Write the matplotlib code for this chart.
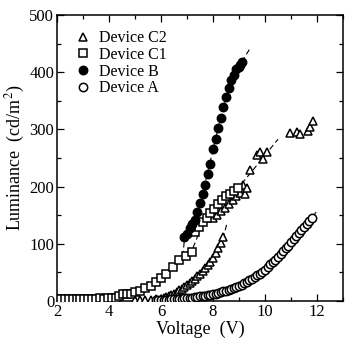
"""Luminance-voltage curves for devices A, B, C1 and C2."""
import matplotlib
matplotlib.use("Agg")
import matplotlib.pyplot as plt
from matplotlib.ticker import MultipleLocator

plt.rcParams["font.family"] = ["Liberation Serif", "DejaVu Serif"]
plt.rcParams["mathtext.fontset"] = "stix"

# Device A (open circles)
a_v = [5.8, 5.9, 6.0, 6.1, 6.2, 6.3, 6.4, 6.5, 6.6, 6.7, 6.8, 6.9, 7.0, 7.1, 7.2,
       7.3, 7.4, 7.5, 7.6, 7.7, 7.8, 7.9, 8.0, 8.1, 8.2, 8.3, 8.4, 8.5, 8.6, 8.7,
       8.8, 8.9, 9.0, 9.1, 9.2, 9.3, 9.4, 9.5, 9.6, 9.7, 9.8, 9.9, 10.0, 10.1, 10.2,
       10.3, 10.4, 10.5, 10.6, 10.7, 10.8, 10.9, 11.0, 11.1, 11.2, 11.3, 11.4, 11.5,
       11.6, 11.7, 11.8]
a_l = [1, 1, 1, 2, 2, 2, 3, 3, 3, 4, 4, 5, 5, 6, 6,
       7, 7, 8, 8, 9, 10, 11, 12, 13, 14, 15, 17, 18, 20, 21,
       23, 24, 26, 28, 31, 33, 36, 39, 42, 45, 48, 51, 55, 59, 64,
       68, 72, 77, 82, 87, 92, 97, 103, 108, 113, 119, 125, 130,
       135, 140, 146]

# Device B (filled circles)
b_v = [6.9, 7.0, 7.1, 7.2, 7.3, 7.4, 7.5, 7.6, 7.7, 7.8, 7.9, 8.0, 8.1, 8.2, 8.3,
       8.4, 8.5, 8.6, 8.7, 8.8, 8.9, 9.0, 9.05, 9.1]
b_l = [112, 118, 127, 135, 142, 155, 172, 187, 203, 222, 240, 265, 284, 302, 320,
       340, 357, 372, 386, 396, 405, 410, 413, 418]

# Device C1 (open squares)
c1_v = [2.0, 2.15, 2.3, 2.45, 2.6, 2.75, 2.9, 3.05, 3.2, 3.35, 3.5, 3.65, 3.8,
        3.95, 4.1, 4.25, 4.4, 4.55, 4.7, 4.85, 5.0, 5.2, 5.4, 5.6, 5.8, 6.0, 6.2,
        6.45, 6.7, 6.95, 7.2,
        7.3, 7.45, 7.6, 7.75, 7.9, 8.05, 8.2, 8.35, 8.5, 8.65, 8.8, 8.95]
c1_l = [3, 4, 3, 3, 4, 3, 4, 4, 3, 4, 4, 5, 4, 5, 5, 6, 8, 12, 12, 13, 15, 18,
        22, 27, 33, 40, 48, 60, 71, 79, 86,
        121, 129, 138, 146, 154, 161, 169, 176, 183, 188, 193, 197]

# Device C2 (open triangles), low-voltage run
c2_v = [5.0, 5.2, 5.4, 5.6, 5.8, 6.0, 6.1, 6.2, 6.3, 6.4, 6.5, 6.6, 6.7, 6.8, 6.9,
        7.0, 7.1, 7.2, 7.3, 7.4, 7.5, 7.6, 7.7, 7.8, 7.9, 8.0, 8.1, 8.2, 8.3, 8.4]
c2_l = [1, 1, 2, 2, 3, 3, 5, 7, 9, 11, 13, 16, 19, 21, 24,
        28, 31, 35, 39, 43, 47, 52, 57, 63, 69, 76, 84, 92, 101, 112]

# Device C2, high-voltage run
c2b_v = [8.0, 8.15, 8.3, 8.45, 8.6, 8.75, 8.9, 9.05, 9.17, 9.23, 9.3,
         9.42, 9.68, 9.81, 9.94, 10.06, 10.96, 11.22, 11.35, 11.67, 11.73, 11.86]
c2b_l = [145, 151, 157, 163, 169, 176, 183, 189, 203, 188, 198,
         230, 255, 261, 249, 261, 294, 296, 292, 298, 305, 315]

# dashed fits
a_fit_v = [10.5, 11.0, 11.5, 11.8, 12.05]
a_fit_l = [77, 103, 130, 146, 160]
b_fit_v = [6.84, 6.9, 7.2, 7.6, 8.0, 8.4, 8.8, 9.1, 9.4]
b_fit_l = [78, 108, 135, 187, 265, 340, 395, 418, 440]
c1_fit_v = [4.8, 5.5, 6.0, 6.5, 7.0, 7.2, 7.4, 7.6, 8.0, 8.5, 9.0, 9.2]
c1_fit_l = [10, 24, 40, 62, 81, 90, 112, 137, 160, 184, 200, 206]
c2_fit_v = [6.0, 6.5, 7.0, 7.5, 8.0, 8.4, 8.55]
c2_fit_l = [3, 13, 28, 47, 76, 112, 138]
c2b_fit_v = [9.1, 9.5, 10.0, 10.5]
c2b_fit_l = [205, 227, 255, 283]

fig = plt.figure(figsize=(3.5, 3.44), dpi=100)
ax = fig.add_axes([0.163, 0.125, 0.817, 0.831])

dash = dict(color="black", linestyle=(0, (5, 3)), linewidth=0.8, zorder=1)
for fv, fl in [(a_fit_v, a_fit_l), (b_fit_v, b_fit_l), (c1_fit_v, c1_fit_l),
               (c2_fit_v, c2_fit_l), (c2b_fit_v, c2b_fit_l)]:
    ax.plot(fv, fl, **dash)

ms = 6
common = dict(linestyle="none", markeredgecolor="black", markeredgewidth=1.1, zorder=3)
ax.plot(c2_v, c2_l, marker="^", markersize=ms, markerfacecolor="white",
        label="Device C2", **common)
ax.plot(c2b_v, c2b_l, marker="^", markersize=ms, markerfacecolor="white", **common)
ax.plot(c1_v, c1_l, marker="s", markersize=ms - 0.5, markerfacecolor="white",
        label="Device C1", **common)
ax.plot(b_v, b_l, marker="o", markersize=ms, markerfacecolor="black",
        label="Device B", **common)
ax.plot(a_v, a_l, marker="o", markersize=ms, markerfacecolor="white",
        label="Device A", **common)

ax.set_xlim(2, 13)
ax.set_ylim(0, 500)
ax.xaxis.set_major_locator(MultipleLocator(2))
ax.xaxis.set_minor_locator(MultipleLocator(1))
ax.yaxis.set_major_locator(MultipleLocator(100))
ax.yaxis.set_minor_locator(MultipleLocator(50))
ax.tick_params(which="both", direction="in", top=True, right=True,
               labelsize=12, width=0.9, pad=2)
ax.tick_params(which="major", length=5)
ax.tick_params(which="minor", length=3)
for s in ax.spines.values():
    s.set_linewidth(1.1)

ax.set_xlabel("Voltage  (V)", fontsize=13, labelpad=1)
ax.set_ylabel("Luminance  (cd/m$^2$)", fontsize=13, labelpad=2)

ax.legend(loc="upper left", bbox_to_anchor=(0.04, 0.97), frameon=False,
          fontsize=11.5, handlelength=1.0, handletextpad=0.5, labelspacing=0.05,
          borderaxespad=0)

plt.savefig("out.png", dpi=100)
